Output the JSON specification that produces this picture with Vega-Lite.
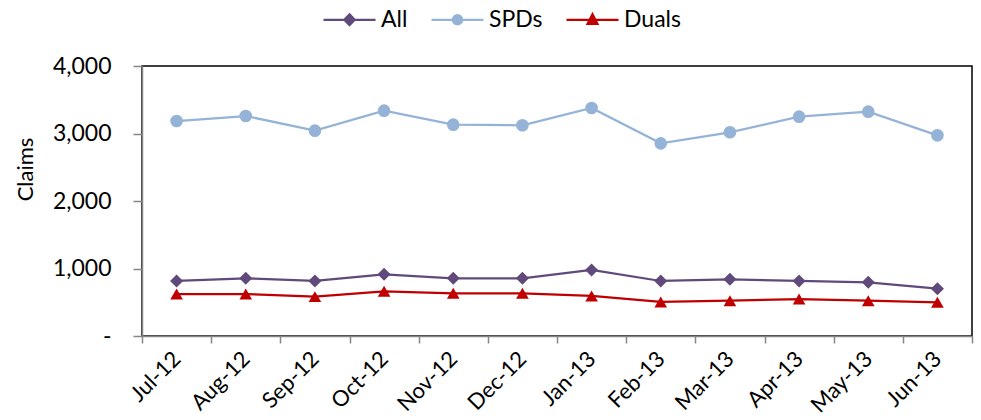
{
  "$schema": "https://vega.github.io/schema/vega-lite/v6.json",
  "width": 830,
  "height": 270,
  "autosize": {"type": "none"},
  "padding": {"left": 142, "top": 66, "right": 9, "bottom": 84},
  "background": "white",
  "config": {
    "font": "Lato",
    "view": {"stroke": "#000000", "strokeWidth": 1.5}
  },
  "data": {
    "values": [
      {"month": "Jul-12", "series": "All", "claims": 815},
      {"month": "Aug-12", "series": "All", "claims": 855},
      {"month": "Sep-12", "series": "All", "claims": 815},
      {"month": "Oct-12", "series": "All", "claims": 914},
      {"month": "Nov-12", "series": "All", "claims": 855},
      {"month": "Dec-12", "series": "All", "claims": 855},
      {"month": "Jan-13", "series": "All", "claims": 978},
      {"month": "Feb-13", "series": "All", "claims": 815},
      {"month": "Mar-13", "series": "All", "claims": 840},
      {"month": "Apr-13", "series": "All", "claims": 815},
      {"month": "May-13", "series": "All", "claims": 795},
      {"month": "Jun-13", "series": "All", "claims": 701},
      {"month": "Jul-12", "series": "SPDs", "claims": 3185},
      {"month": "Aug-12", "series": "SPDs", "claims": 3259},
      {"month": "Sep-12", "series": "SPDs", "claims": 3042},
      {"month": "Oct-12", "series": "SPDs", "claims": 3338},
      {"month": "Nov-12", "series": "SPDs", "claims": 3131},
      {"month": "Dec-12", "series": "SPDs", "claims": 3122},
      {"month": "Jan-13", "series": "SPDs", "claims": 3378},
      {"month": "Feb-13", "series": "SPDs", "claims": 2854},
      {"month": "Mar-13", "series": "SPDs", "claims": 3018},
      {"month": "Apr-13", "series": "SPDs", "claims": 3249},
      {"month": "May-13", "series": "SPDs", "claims": 3323},
      {"month": "Jun-13", "series": "SPDs", "claims": 2973},
      {"month": "Jul-12", "series": "Duals", "claims": 622},
      {"month": "Aug-12", "series": "Duals", "claims": 622},
      {"month": "Sep-12", "series": "Duals", "claims": 583},
      {"month": "Oct-12", "series": "Duals", "claims": 662},
      {"month": "Nov-12", "series": "Duals", "claims": 632},
      {"month": "Dec-12", "series": "Duals", "claims": 632},
      {"month": "Jan-13", "series": "Duals", "claims": 593},
      {"month": "Feb-13", "series": "Duals", "claims": 504},
      {"month": "Mar-13", "series": "Duals", "claims": 523},
      {"month": "Apr-13", "series": "Duals", "claims": 548},
      {"month": "May-13", "series": "Duals", "claims": 523},
      {"month": "Jun-13", "series": "Duals", "claims": 499}
    ]
  },
  "encoding": {
    "x": {
      "field": "month",
      "type": "nominal",
      "sort": null,
      "scale": {"paddingInner": 0, "paddingOuter": 0},
      "axis": {
        "title": null,
        "labelAngle": -45,
        "labelAlign": "right",
        "labelBaseline": "middle",
        "labelFontSize": 22,
        "labelColor": "#000000",
        "labelPadding": 12,
        "tickBand": "extent",
        "tickSize": 7,
        "tickColor": "#868686",
        "tickWidth": 1.5,
        "domainColor": "#868686",
        "domainWidth": 1.5
      }
    },
    "y": {
      "field": "claims",
      "type": "quantitative",
      "scale": {"domain": [0, 4000], "nice": false},
      "axis": {
        "title": "Claims",
        "titleFontSize": 22,
        "titleFontWeight": "normal",
        "titleColor": "#000000",
        "titleX": -105,
        "titleY": 103,
        "values": [0, 1000, 2000, 3000, 4000],
        "labelExpr": "datum.value == 0 ? '-' : format(datum.value, ',')",
        "labelFontSize": 23,
        "labelColor": "#000000",
        "labelPadding": 22,
        "tickSize": 9,
        "tickColor": "#868686",
        "tickWidth": 1.5,
        "domainColor": "#868686",
        "domainWidth": 1.5,
        "grid": false
      }
    }
  },
  "layer": [
    {
      "mark": {"type": "line", "strokeWidth": 2.25},
      "encoding": {
        "color": {
          "field": "series",
          "type": "nominal",
          "scale": {"domain": ["All", "SPDs", "Duals"], "range": ["#604A7B", "#95B3D7", "#C00000"]},
          "legend": {
            "title": null,
            "orient": "none",
            "legendX": 180,
            "legendY": -74,
            "direction": "horizontal",
            "labelFontSize": 23,
            "labelColor": "#000000",
            "labelOffset": 4,
            "columnPadding": 19,
            "symbolSize": 2704,
            "symbolStrokeWidth": 2.25,
            "encode": {
              "symbols": {
                "update": {
                  "shape": {"signal": "datum.value === 'All' ? 'M-1,0H1M0,-0.21L0.2,0L0,0.21L-0.2,0Z' : datum.value === 'SPDs' ? 'M-1,0H1M-0.18,0A0.18,0.18 0 1,0 0.18,0A0.18,0.18 0 1,0 -0.18,0Z' : 'M-1,0H1M0,-0.21L0.19,0.16L-0.19,0.16Z'"},
                  "fill": {"scale": "color", "field": "value"},
                  "stroke": {"scale": "color", "field": "value"}
                }
              }
            }
          }
        }
      }
    },
    {
      "transform": [{"filter": "datum.series === 'All'"}],
      "mark": {"type": "point", "filled": true, "opacity": 1, "size": 170, "strokeWidth": 0, "shape": "diamond", "color": "#604A7B"}
    },
    {
      "transform": [{"filter": "datum.series === 'SPDs'"}],
      "mark": {"type": "point", "filled": true, "opacity": 1, "size": 160, "strokeWidth": 0, "shape": "circle", "color": "#95B3D7"}
    },
    {
      "transform": [{"filter": "datum.series === 'Duals'"}],
      "mark": {"type": "point", "filled": true, "opacity": 1, "size": 160, "strokeWidth": 0, "shape": "triangle-up", "color": "#C00000"}
    }
  ]
}
